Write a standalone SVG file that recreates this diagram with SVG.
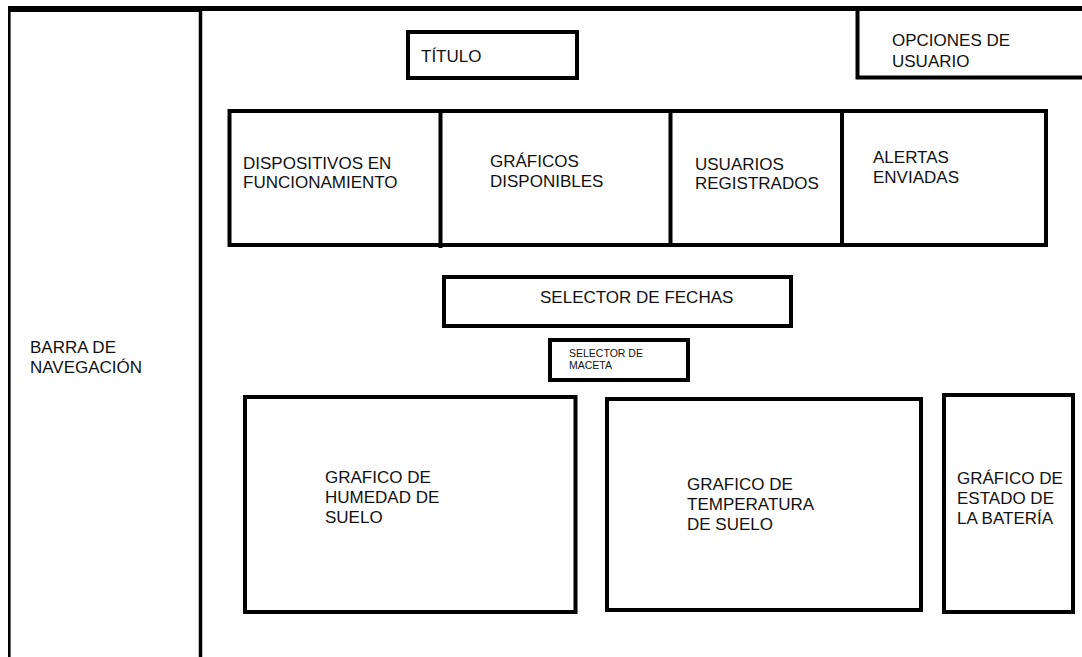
<svg xmlns="http://www.w3.org/2000/svg" width="1082" height="657" viewBox="0 0 1082 657">
<style>
.box{fill:none;stroke:#000;stroke-width:4}
.ln{stroke:#000;fill:none}
text{font-family:"Liberation Sans",Arial,sans-serif;font-size:17px;fill:#111}
.sm{font-size:10.5px}
</style>
<rect width="1082" height="657" fill="#fff"/>
<g id="frame">
<line class="ln" x1="8" y1="8.5" x2="1082" y2="8.5" stroke-width="5"/>
<line class="ln" x1="8" y1="9" x2="202" y2="9" stroke-width="6"/>
<line class="ln" x1="9.3" y1="6" x2="9.3" y2="657" stroke-width="2.6"/>
<line class="ln" x1="200.5" y1="6" x2="200.5" y2="657" stroke-width="3.5"/>
</g>
<g id="barra">
<text x="30" y="353">BARRA DE</text>
<text x="30" y="373">NAVEGACIÓN</text>
</g>
<g id="titulo">
<rect class="box" x="408" y="32" width="169" height="46"/>
<text x="421" y="62">TÍTULO</text>
</g>
<g id="opciones">
<path class="ln" stroke-width="4" d="M857.5 8 V77.5 H1082"/>
<text x="892" y="46">OPCIONES DE</text>
<text x="892" y="67">USUARIO</text>
</g>
<g id="tarjetas">
<rect class="box" x="229.5" y="111" width="816.5" height="134"/>
<line class="ln" stroke-width="4" x1="440.5" y1="111" x2="440.5" y2="248"/>
<line class="ln" stroke-width="4" x1="670.5" y1="111" x2="670.5" y2="245"/>
<line class="ln" stroke-width="4" x1="842" y1="111" x2="842" y2="245"/>
</g>
<g id="dispositivos">
<text x="243" y="169">DISPOSITIVOS EN</text>
<text x="243" y="188">FUNCIONAMIENTO</text>
</g>
<g id="graficos">
<text x="490" y="167">GRÁFICOS</text>
<text x="490" y="187">DISPONIBLES</text>
</g>
<g id="usuarios">
<text x="695" y="170">USUARIOS</text>
<text x="695" y="189">REGISTRADOS</text>
</g>
<g id="alertas">
<text x="873" y="163">ALERTAS</text>
<text x="873" y="183">ENVIADAS</text>
</g>
<g id="selector-fechas">
<rect class="box" x="444" y="277" width="347" height="49"/>
<text x="540" y="303">SELECTOR DE FECHAS</text>
</g>
<g id="selector-maceta">
<rect class="box" x="550" y="340" width="138" height="40"/>
<text class="sm" x="569" y="357">SELECTOR DE</text>
<text class="sm" x="569" y="369">MACETA</text>
</g>
<g id="humedad">
<rect class="box" x="245" y="397" width="330.5" height="215"/>
<text x="325" y="483">GRAFICO DE</text>
<text x="325" y="503">HUMEDAD DE</text>
<text x="325" y="523">SUELO</text>
</g>
<g id="temperatura">
<rect class="box" x="607" y="399" width="314" height="211"/>
<text x="687" y="490">GRAFICO DE</text>
<text x="687" y="510">TEMPERATURA</text>
<text x="687" y="530">DE SUELO</text>
</g>
<g id="bateria">
<rect class="box" x="944" y="395" width="129" height="217"/>
<text x="957" y="484">GRÁFICO DE</text>
<text x="957" y="504">ESTADO DE</text>
<text x="957" y="524">LA BATERÍA</text>
</g>
<g id="connectors"/>
</svg>
